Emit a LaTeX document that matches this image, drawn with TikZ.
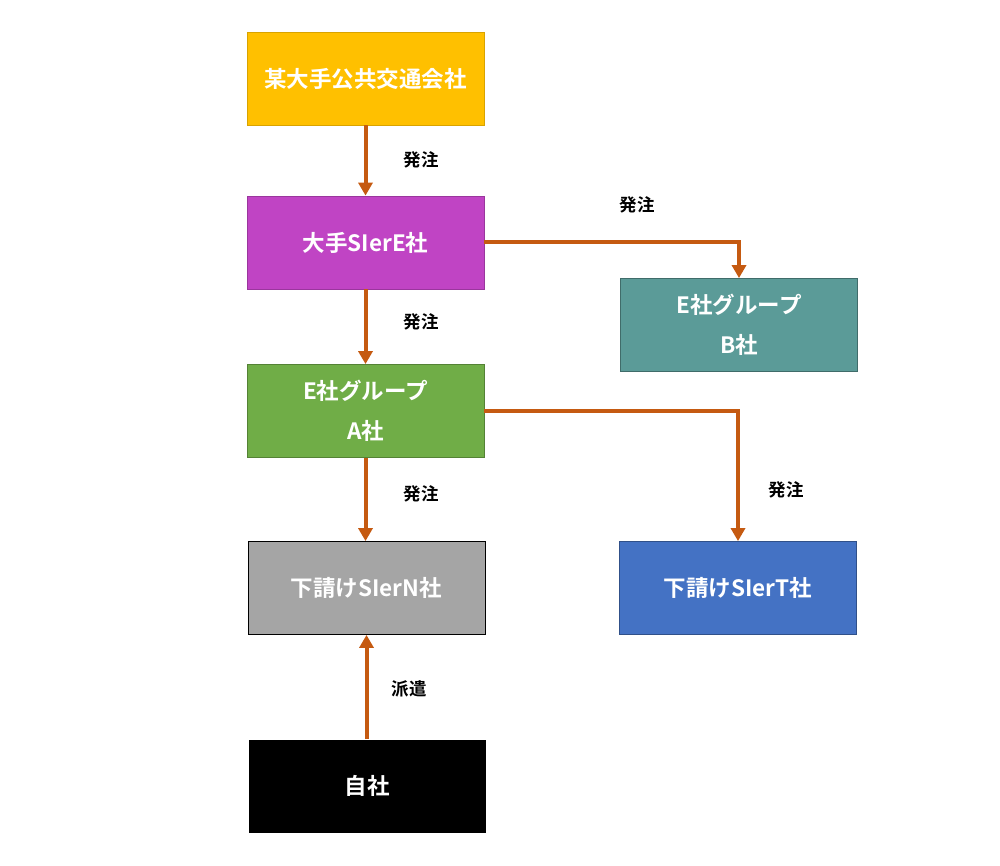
\documentclass[tikz,border=0pt]{standalone}
\usepackage{fontspec}
\newfontfamily\jp{Noto Sans CJK JP}[BoldFont={Noto Sans CJK JP Bold}]
\usetikzlibrary{arrows.meta}
\definecolor{cgold}{HTML}{FFC000}
\definecolor{cpurple}{HTML}{C044C4}
\definecolor{cteal}{HTML}{5B9B98}
\definecolor{cgreen}{HTML}{70AD47}
\definecolor{cgray}{HTML}{A5A5A5}
\definecolor{cblue}{HTML}{4472C4}
\definecolor{carrow}{HTML}{C55A11}
\begin{document}
\begin{tikzpicture}[x=1pt,y=-1pt,
  box/.style={minimum width=237pt,minimum height=93pt,inner sep=0pt,
    text=white,font=\jp\bfseries\fontsize{22.5}{40}\selectfont,align=center,line width=0.8pt},
  lbl/.style={font=\jp\bfseries\fontsize{17.5}{20}\selectfont,text=black},
  conn/.style={draw=carrow,line width=4pt,-{Triangle[width=14pt,length=13pt]}}]
\useasboundingbox (0,0) rectangle (1000,866);
\node[box,fill=cgold,draw=cgold!85!black] (pub) at (365.5,78.5) {某大手公共交通会社};
\node[box,fill=cpurple,draw=cpurple!80!black] (e) at (365.5,242.5) {大手SIerE社};
\node[box,fill=cteal,draw=cteal!70!black] (b) at (739,325) {E社グループ\\B社};
\node[box,fill=cgreen,draw=cgreen!75!black] (a) at (365.5,411) {E社グループ\\A社};
\node[box,fill=cgray,draw=black] (n) at (366.5,588) {下請けSIerN社};
\node[box,fill=cblue,draw=cblue!70!black] (t) at (738,588) {下請けSIerT社};
\node[box,fill=black] (self) at (367,786) {自社};
\draw[conn] (pub.south) -- (e.north);
\draw[conn] (e.east) -| (b.north);
\draw[conn] (e.south) -- (a.north);
\draw[conn] (a.east) -| (t.north);
\draw[conn] (a.south) -- (a.south |- n.north);
\draw[conn] (self.north -| n.south) -- (n.south);
\node[lbl] (l1) at (421,160) {発注};
\node[lbl] (l2) at (637,205) {発注};
\node[lbl] (l3) at (421,322) {発注};
\node[lbl] (l4) at (786,490) {発注};
\node[lbl] (l5) at (421,494) {発注};
\node[lbl] (l6) at (409,689) {派遣};
\end{tikzpicture}
\end{document}
